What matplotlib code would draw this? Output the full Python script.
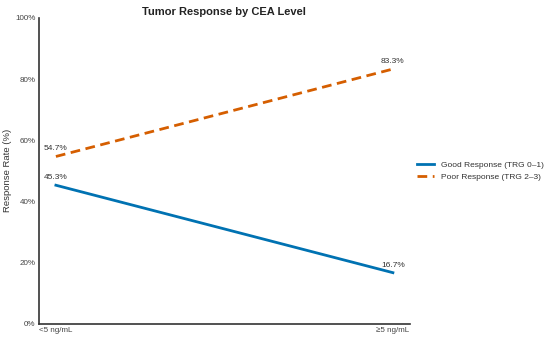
import matplotlib.pyplot as plt

plt.rcParams['font.family'] = ['Liberation Sans', 'DejaVu Sans']

# data
cea_levels = ['<5 ng/mL', '\u22655 ng/mL']
good_response = [45.3, 16.7]
poor_response = [54.7, 83.3]
series_labels = ['Good Response (TRG 0\u20131)', 'Poor Response (TRG 2\u20133)']
y_ticks = [0, 20, 40, 60, 80, 100]

fig, ax = plt.subplots(figsize=(5.5, 3.39), dpi=100)
fig.subplots_adjust(left=0.071, right=0.745, top=0.947, bottom=0.045)

x = list(range(len(cea_levels)))
ax.plot(x, good_response, color='#0072B2', linewidth=2, label=series_labels[0])
ax.plot(x, poor_response, color='#D55E00', linewidth=2, linestyle='--',
        dashes=(3.5, 2), label=series_labels[1])

for xi, v in zip(x, good_response):
    ax.annotate(f'{v}%', (xi, v), xytext=(0, 3), textcoords='offset points',
                ha='center', va='bottom', fontsize=6, color='#333333')
for xi, v in zip(x, poor_response):
    ax.annotate(f'{v}%', (xi, v), xytext=(0, 3), textcoords='offset points',
                ha='center', va='bottom', fontsize=6, color='#333333')

ax.set_xlim(-0.05, 1.05)
ax.set_ylim(0, 100)
ax.set_xticks(x)
ax.set_xticklabels(cea_levels)
ax.set_yticks(y_ticks)
ax.set_yticklabels([f'{t}%' for t in y_ticks])
ax.tick_params(length=0, labelsize=5.8, labelcolor='#444444', pad=2.5)

for side in ['top', 'right']:
    ax.spines[side].set_visible(False)
for side in ['left', 'bottom']:
    ax.spines[side].set_color('#333333')
    ax.spines[side].set_linewidth(1.2)

ax.set_ylabel('Response Rate (%)', fontsize=6.8, color='#333333', labelpad=2)
ax.set_title('Tumor Response by CEA Level', fontsize=8, fontweight='bold',
             color='#222222', pad=2)

ax.legend(loc='center left', bbox_to_anchor=(1.0, 0.5), frameon=False,
          fontsize=6, labelcolor='#333333', handlelength=2.0)

fig.savefig('out.png', dpi=100, facecolor='white')
